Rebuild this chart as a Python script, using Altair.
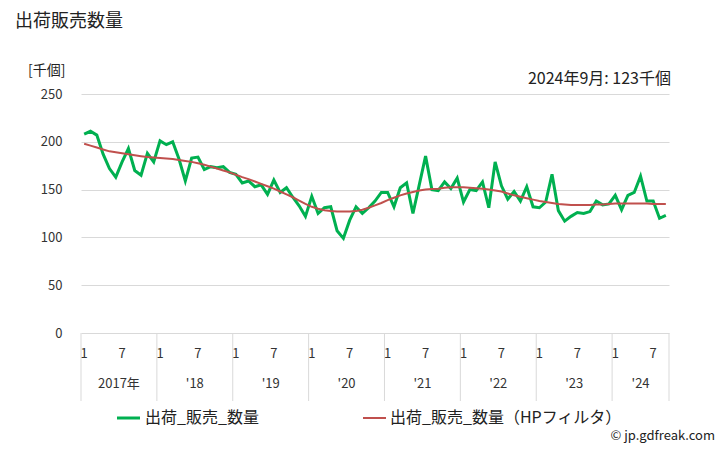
import altair as alt
import pandas as pd

# 2017-01 .. 2024-09 monthly values (thousand units)
shipments = [
    208, 211, 207, 187, 172, 163, 179, 193, 170, 165, 188, 179,   # 2017
    201, 197, 200, 182, 159, 183, 184, 171, 174, 173, 174, 168,   # 2018
    166, 157, 159, 153, 155, 145, 160, 147, 152, 142, 133, 122,   # 2019
    143, 125, 131, 132, 107, 99, 118, 132, 125, 131, 138, 147,    # 2020
    147, 132, 152, 157, 125, 155, 185, 150, 149, 158, 151, 162,   # 2021
    137, 150, 149, 158, 131, 179, 154, 140, 148, 138, 153, 132,   # 2022
    131, 137, 166, 128, 117, 122, 126, 125, 127, 138, 134, 135,   # 2023
    144, 129, 144, 147, 164, 138, 138, 120, 123,                  # 2024
]
hp_trend = [
    198, 196, 194, 192, 190, 189, 188, 187, 186, 185, 184, 183.5,
    183, 182.5, 182, 181, 180, 179, 177.5, 176, 174, 172, 170, 168,
    165.5, 163, 161, 158.5, 156, 153.5, 151, 148, 145, 142, 138.5, 135,
    132, 130, 128.5, 127.5, 127, 127, 127, 127.5, 129, 131, 133.5, 136,
    139, 141.5, 144, 146, 147.5, 149, 150, 150.5, 151, 152, 152.5, 152.5,
    152.5, 152, 151.5, 151, 150, 149, 148, 146, 144, 142.5, 141, 139.5,
    138, 137, 136, 135, 134.5, 134, 134, 134, 134, 134.5, 134.5, 135,
    135.5, 135.5, 135.5, 135.5, 135.5, 135.5, 135, 135, 135,
]
years = ["2017年", "'18", "'19", "'20", "'21", "'22", "'23", "'24"]
month_labels = ["1", "7"]
y_ticks = [0, 50, 100, 150, 200, 250]

n = len(shipments)
df = pd.DataFrame({
    "m": [i + 0.5 for i in range(n)],
    "出荷_販売_数量": shipments,
    "HP": hp_trend,
})

# tick label table
tick_rows = []
for k in range(len(years)):
    for j, lab in enumerate(month_labels):
        pos = 12 * k + 6 * j
        if pos < n:
            tick_rows.append({"m": pos + 0.5, "t": lab})
ticks_df = pd.DataFrame(tick_rows)

year_rows = []
for k, y in enumerate(years):
    start = 12 * k
    end = min(12 * k + 12, n)
    year_rows.append({"m": (start + end) / 2, "t": y})
years_df = pd.DataFrame(year_rows)

sep_df = pd.DataFrame({"m": [12 * k for k in range(len(years))] + [n]})

FONT = "Noto Sans CJK JP"
GREEN = "#00b050"
RED = "#c0504d"
GRID = "#d9d9d9"

xs = alt.Scale(domain=[0, n], nice=False, zero=False)
ys = alt.Scale(domain=[0, 250], nice=False)

base = alt.Chart(df)

green = base.mark_line(color=GREEN, strokeWidth=3).encode(
    x=alt.X("m:Q", scale=xs, axis=None),
    y=alt.Y("出荷_販売_数量:Q", scale=ys,
            axis=alt.Axis(values=y_ticks, title=None, grid=True, gridColor=GRID,
                          domain=False, ticks=False, labelPadding=19,
                          labelFont=FONT, labelFontSize=13, labelColor="#333333")),
)
red = base.mark_line(color=RED, strokeWidth=2).encode(
    x=alt.X("m:Q", scale=xs, axis=None),
    y=alt.Y("HP:Q", scale=ys),
)

seps = alt.Chart(sep_df).mark_rule(color=GRID, strokeWidth=1).encode(
    x=alt.X("m:Q", scale=xs, axis=None),
    y=alt.value(239), y2=alt.value(307),
)
tick_text = alt.Chart(ticks_df).mark_text(font=FONT, fontSize=13, color="#333333", align="center", baseline="middle").encode(
    x=alt.X("m:Q", scale=xs, axis=None), y=alt.value(260), text="t:N",
)
year_text = alt.Chart(years_df).mark_text(font=FONT, fontSize=13, color="#333333", align="center", baseline="middle").encode(
    x=alt.X("m:Q", scale=xs, axis=None), y=alt.value(290), text="t:N",
)

one = alt.Chart(pd.DataFrame({"a": [0]}))


def label(txt, x, y, size, align="left", color="#222222"):
    return one.mark_text(text=txt, font=FONT, fontSize=size, align=align, baseline="middle", color=color).encode(
        x=alt.value(x), y=alt.value(y))


title = label("出荷販売数量", -66, -72, 18)
unit = label("[千個]", -53, -23, 14)
note = label("2024年9月: 123千個", 590, -15, 16, align="right")
leg_g_line = one.mark_rule(color=GREEN, strokeWidth=3).encode(x=alt.value(36), x2=alt.value(59), y=alt.value(324))
leg_r_line = one.mark_rule(color=RED, strokeWidth=2).encode(x=alt.value(282), x2=alt.value(305), y=alt.value(324))
leg_g = label("出荷_販売_数量", 64, 324, 16)
leg_r = label("出荷_販売_数量（HPフィルタ）", 309, 324, 16)
copy = label("© jp.gdfreak.com", 634, 342, 13, align="right")

chart = alt.layer(
    seps, green, red, tick_text, year_text, title, unit, note,
    leg_g_line, leg_r_line, leg_g, leg_r, copy,
).properties(
    width=588, height=239,
    padding={"left": 81, "top": 94, "right": 59, "bottom": 117},
    autosize="none", background="white",
).configure_view(stroke=None)

chart.save("out.html", embed_options={"renderer": "svg", "actions": False})
